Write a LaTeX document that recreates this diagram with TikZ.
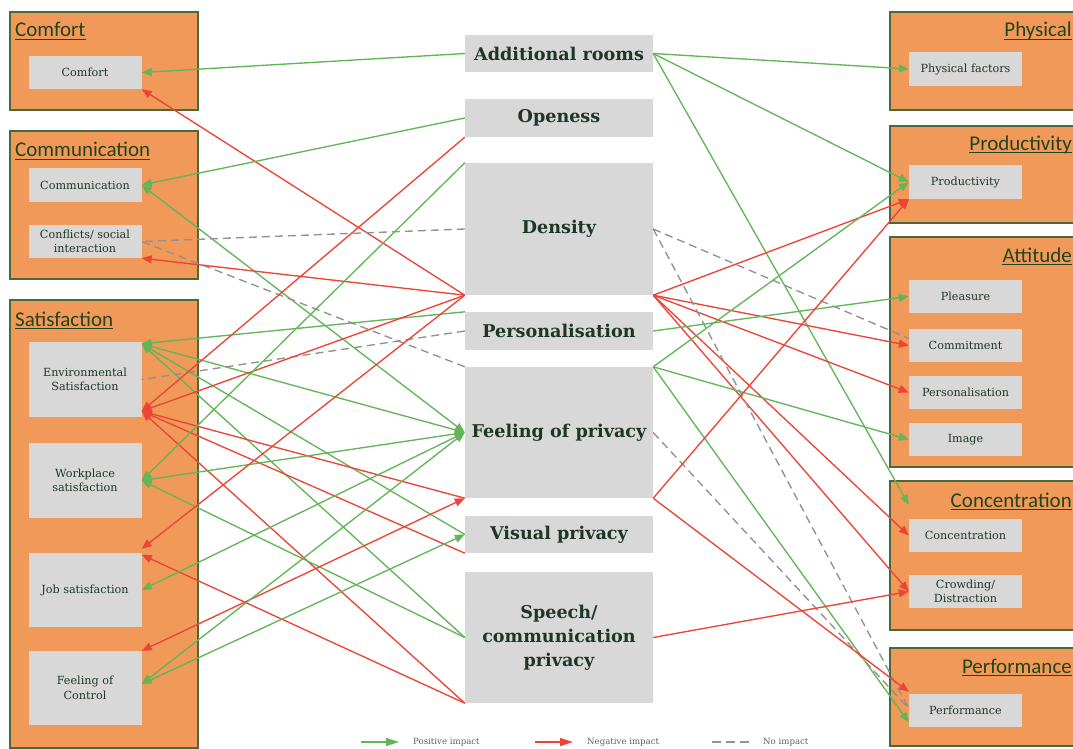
\documentclass[tikz,border=0pt]{standalone}
\usepackage{fontspec}
\setmainfont{DejaVu Serif}
\newfontfamily\titlefont{Carlito}
\usetikzlibrary{arrows.meta,calc}

\definecolor{grp}{RGB}{240,153,88}
\definecolor{grpline}{RGB}{72,104,62}
\definecolor{cellfill}{RGB}{216,216,216}
\definecolor{ink}{RGB}{30,54,38}
\definecolor{ttl}{RGB}{36,68,30}
\definecolor{posgreen}{RGB}{98,182,88}
\definecolor{negred}{RGB}{236,68,54}
\definecolor{nilgray}{RGB}{145,145,145}
\definecolor{legendink}{RGB}{95,95,95}

\tikzset{
  group/.style={draw=grpline, line width=1.3pt, fill=grp},
  cellbox/.style={fill=cellfill, draw=none, inner sep=0pt, text=ink, align=center},
  sidecell/.style={cellbox, minimum width=113pt, font=\fontsize{11.2}{14.5}\selectfont},
  midcell/.style={cellbox, minimum width=188pt, font=\bfseries\fontsize{17.6}{24}\selectfont},
  grouptitle/.style={inner sep=0pt, text=ttl, font=\titlefont\fontsize{21}{24}\selectfont},
  onetip/.style={-{Triangle[length=10pt,width=8pt]}},
  twotips/.style={{Triangle[length=10pt,width=8pt]}-{Triangle[length=10pt,width=8pt]}},
  poslink/.style={posgreen, line width=1.35pt},
  neglink/.style={negred, line width=1.35pt},
  nillink/.style={nilgray, line width=1.35pt, dash pattern=on 8pt off 5pt},
  legendtext/.style={anchor=west, inner sep=0pt, text=legendink, font=\fontsize{8.6}{10}\selectfont},
}

\begin{document}
\begin{tikzpicture}[x=1pt,y=-1pt]
\useasboundingbox (0,0) rectangle (1073,749);

% ---- outcome groups, left column
\draw[group] (10,12)  rectangle (198,110);
\draw[group] (10,131) rectangle (198,279);
\draw[group] (10,300) rectangle (198,748);
% ---- outcome groups, right column
\draw[group] (890,12)  rectangle (1080,110);
\draw[group] (890,126) rectangle (1080,223);
\draw[group] (890,237) rectangle (1080,467);
\draw[group] (890,481) rectangle (1080,630);
\draw[group] (890,648) rectangle (1080,746);

% ---- group titles
\node[grouptitle, anchor=base west] (tComfort) at (15,37)  {Comfort};
\node[grouptitle, anchor=base west] (tComm)    at (15,157) {Communication};
\node[grouptitle, anchor=base west] (tSat)     at (15,326) {Satisfaction};
\node[grouptitle, anchor=base east] (tPhys)    at (1072,37)  {Physical};
\node[grouptitle, anchor=base east] (tProd)    at (1072,150) {Productivity};
\node[grouptitle, anchor=base east] (tAtt)     at (1072,262) {Attitude};
\node[grouptitle, anchor=base east] (tConc)    at (1072,507) {Concentration};
\node[grouptitle, anchor=base east] (tPerf)    at (1072,673) {Performance};
\foreach \t in {tComfort,tComm,tSat,tPhys,tProd,tAtt,tConc,tPerf}
  \draw[ttl, line width=1.2pt] ([yshift=-2.5pt]\t.base west) -- ([yshift=-2.5pt]\t.base east);

% ---- left outcome cells
\node[sidecell, minimum height=33pt] (comfort) at (85,72.5)  {Comfort};
\node[sidecell, minimum height=34pt] (comm)    at (85,185)   {Communication};
\node[sidecell, minimum height=33pt] (confl)   at (85,241.5) {Conflicts/ social\\interaction};
\node[sidecell, minimum height=75pt] (envs)    at (85,379.5) {Environmental\\Satisfaction};
\node[sidecell, minimum height=75pt] (work)    at (85,480.5) {Workplace\\satisfaction};
\node[sidecell, minimum height=74pt] (job)     at (85,590)   {Job satisfaction};
\node[sidecell, minimum height=74pt] (ctrl)    at (85,688)   {Feeling of\\Control};

% ---- right outcome cells
\node[sidecell, minimum height=34pt] (phys)   at (965.5,69)    {Physical factors};
\node[sidecell, minimum height=34pt] (prod)   at (965.5,182)   {Productivity};
\node[sidecell, minimum height=33pt] (pleas)  at (965.5,296.5) {Pleasure};
\node[sidecell, minimum height=33pt] (commit) at (965.5,345.5) {Commitment};
\node[sidecell, minimum height=33pt] (perso)  at (965.5,392.5) {Personalisation};
\node[sidecell, minimum height=33pt] (image)  at (965.5,439.5) {Image};
\node[sidecell, minimum height=33pt] (conc)   at (965.5,535.5) {Concentration};
\node[sidecell, minimum height=33pt] (crowd)  at (965.5,591.5) {Crowding/\\Distraction};
\node[sidecell, minimum height=33pt] (perf)   at (965.5,710.5) {Performance};

% ---- workplace features, middle column
\node[midcell, minimum height=37pt]  (addr)   at (559,53.5)  {Additional rooms};
\node[midcell, minimum height=38pt]  (open)   at (559,118)   {Openess};
\node[midcell, minimum height=132pt] (dens)   at (559,229)   {Density};
\node[midcell, minimum height=38pt]  (pers)   at (559,331)   {Personalisation};
\node[midcell, minimum height=131pt] (fop)    at (559,432.5) {Feeling of privacy};
\node[midcell, minimum height=37pt]  (vis)    at (559,534.5) {Visual privacy};
\node[midcell, minimum height=131pt] (speech) at (559,637.5) {Speech/\\communication\\privacy};

% ---- arrow end points that sit beside a cell
\coordinate (envsG)  at ($(envs.north east)+(0,2)$);
\coordinate (envsR)  at ($(envs.south east)+(0,-6)$);
\coordinate (jobR1)  at ($(job.north east)+(0,-4)$);
\coordinate (jobR2)  at ($(job.north east)+(0,2)$);
\coordinate (ctrlR)  at (ctrl.north east);
\coordinate (ctrlG)  at ($(ctrl.east)+(0,-4)$);
\coordinate (concG)  at ($(conc.north west)+(0,-14)$);
\coordinate (commitD) at ($(commit.west)+(0,-7)$);
\coordinate (perfR)  at ($(perf.north west)+(0,-2)$);
\coordinate (perfG)  at ($(perf.south west)+(0,-5)$);
\coordinate (perfD)  at ($(perf.west)+(0,-2)$);

% ---- links to the left column
\draw[poslink,onetip]  (addr.west) -- (comfort.east);
\draw[neglink,onetip]  (dens.south west) -- (comfort.south east);
\draw[poslink,onetip]  (open.west) -- (comm.east);
\draw[poslink,twotips] (fop.west) -- (comm.east);
\draw[nillink]         (dens.west) -- (confl.east);
\draw[nillink]         (fop.north west) -- (confl.east);
\draw[neglink,onetip]  (dens.south west) -- (confl.south east);
\draw[poslink,onetip]  (pers.north west) -- (envsG);
\draw[poslink,twotips] (fop.west) -- (envsG);
\draw[poslink,onetip]  (vis.west) -- (envsG);
\draw[poslink,onetip]  (speech.west) -- (envsG);
\draw[nillink]         (pers.west) -- (envs.east);
\draw[neglink,onetip]  (open.south west) -- (envsR);
\draw[neglink,onetip]  (dens.south west) -- (envsR);
\draw[neglink,onetip]  (fop.south west) -- (envsR);
\draw[neglink,onetip]  (vis.south west) -- (envsR);
\draw[neglink,onetip]  (speech.south west) -- (envsR);
\draw[poslink,onetip]  (dens.north west) -- (work.east);
\draw[poslink,twotips] (fop.west) -- (work.east);
\draw[poslink,onetip]  (speech.west) -- (work.east);
\draw[neglink,onetip]  (dens.south west) -- (jobR1);
\draw[neglink,onetip]  (speech.south west) -- (jobR2);
\draw[poslink,twotips] (fop.west) -- (job.east);
\draw[neglink,twotips] (fop.south west) -- (ctrlR);
\draw[poslink,twotips] (fop.west) -- (ctrlG);
\draw[poslink,twotips] (vis.west) -- (ctrlG);

% ---- links to the right column
\draw[poslink,onetip] (addr.east) -- (phys.west);
\draw[poslink,onetip] (addr.east) -- (prod.west);
\draw[poslink,onetip] (addr.east) -- (concG);
\draw[neglink,onetip] (dens.south east) -- (prod.south west);
\draw[neglink,onetip] (dens.south east) -- (commit.west);
\draw[neglink,onetip] (dens.south east) -- (perso.west);
\draw[neglink,onetip] (dens.south east) -- (conc.west);
\draw[neglink,onetip] (dens.south east) -- (crowd.west);
\draw[nillink]        (dens.east) -- (commitD);
\draw[nillink]        (dens.east) -- (perfD);
\draw[poslink,onetip] (pers.east) -- (pleas.west);
\draw[poslink,onetip] (fop.north east) -- (prod.west);
\draw[poslink,onetip] (fop.north east) -- (image.west);
\draw[poslink,onetip] (fop.north east) -- (perfG);
\draw[nillink]        (fop.east) -- (perfD);
\draw[neglink,onetip] (fop.south east) -- (prod.south west);
\draw[neglink,onetip] (fop.south east) -- (perfR);
\draw[neglink,onetip] (speech.east) -- (crowd.west);

% ---- legend
\coordinate (lg1) at (361,742); \coordinate (lg2) at (399,742);
\coordinate (lr1) at (535,742); \coordinate (lr2) at (573,742);
\coordinate (ln1) at (712,742); \coordinate (ln2) at (750,742);
\draw[poslink,-{Triangle[length=13pt,width=8pt]}] (lg1) -- (lg2);
\draw[neglink,-{Triangle[length=13pt,width=8pt]}] (lr1) -- (lr2);
\draw[nillink,dash pattern=on 9pt off 5pt] (ln1) -- (ln2);
\node[legendtext] (lgt) at (413,742) {Positive impact};
\node[legendtext] (lrt) at (587,742) {Negative impact};
\node[legendtext] (lnt) at (763,742) {No impact};
\end{tikzpicture}
\end{document}
